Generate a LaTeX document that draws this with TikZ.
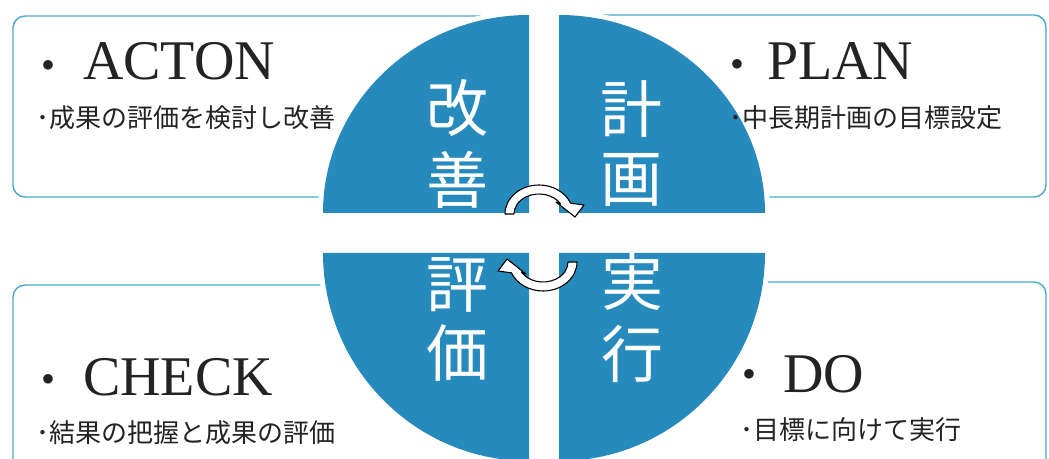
\documentclass[tikz,border=0pt]{standalone}
\usepackage{fontspec}
\newfontfamily\cjk{Noto Sans CJK JP}
\newfontfamily\headfont{Liberation Serif}
\definecolor{qblue}{RGB}{38,138,188}
\definecolor{bline}{RGB}{75,168,208}
\definecolor{ink}{RGB}{35,35,35}
\begin{document}
\begin{tikzpicture}[x=1pt,y=1pt,
  card/.style={draw=bline, line width=1.4pt, rounded corners=12pt},
  halo/.style={fill=white},
  quarter/.style={fill=qblue},
  head/.style={font=\headfont\fontsize{56}{60}\selectfont, text=ink, inner sep=0pt, anchor=base west},
  bul/.style={font=\fontsize{34}{36}\selectfont, text=ink, inner sep=0pt, anchor=base},
  sub/.style={font=\cjk\fontsize{26}{30}\selectfont, text=ink, inner sep=0pt, anchor=west},
  big/.style={font=\cjk\fontsize{62}{70}\selectfont, text=white, inner sep=0pt},
  cyc/.style={fill=white, draw=black, line width=1.1pt, line join=round}]
\useasboundingbox (0,0) rectangle (1049,458);
\clip (0,0) rectangle (1049,458);
\fill[white] (0,0) rectangle (1049,458);
% cards
\draw[card] (13,261) rectangle (520,442);
\draw[card] (570,261) rectangle (1046,443);
\draw[card] (13,-30) rectangle (520,173);
\draw[card] (570,-30) rectangle (1046,176);
% quarters with white halo
\fill[halo] (529,245) -- (318,245) arc[start angle=180,end angle=90,x radius=211pt,y radius=203pt] -- cycle;
\fill[halo] (559,245) -- (770,245) arc[start angle=0,end angle=90,x radius=211pt,y radius=203pt] -- cycle;
\fill[halo] (529,205) -- (318,205) arc[start angle=180,end angle=270,x radius=211pt,y radius=213pt] -- cycle;
\fill[halo] (559,205) -- (770,205) arc[start angle=0,end angle=-90,x radius=211pt,y radius=213pt] -- cycle;
\fill[quarter] (529,245) -- (323,245) arc[start angle=180,end angle=90,x radius=206pt,y radius=198pt] -- cycle;
\fill[quarter] (559,245) -- (765,245) arc[start angle=0,end angle=90,x radius=206pt,y radius=198pt] -- cycle;
\fill[quarter] (529,205) -- (323,205) arc[start angle=180,end angle=270,x radius=206pt,y radius=208pt] -- cycle;
\fill[quarter] (559,205) -- (765,205) arc[start angle=0,end angle=-90,x radius=206pt,y radius=208pt] -- cycle;
% big characters
\node[big] (k1) at (457,350) {改};
\node[big] (k2) at (457,278) {善};
\node[big] (k3) at (631,349) {計};
\node[big] (k4) at (631,278) {画};
\node[big] (k5) at (457,173) {評};
\node[big] (k6) at (457,105) {価};
\node[big] (k7) at (632,176) {実};
\node[big] (k8) at (632,104) {行};
% cycle arrows
\draw[cyc] (505,244) arc[start angle=180,end angle=22,x radius=34pt,y radius=29pt]
  -- (584,253) -- (575,241) -- (556,256) -- (560.65,254)
  arc[start angle=30,end angle=180,x radius=25pt,y radius=20pt] -- cycle;
\draw[cyc, rotate around={180:(541,220)}] (505,244) arc[start angle=180,end angle=22,x radius=34pt,y radius=29pt]
  -- (584,253) -- (575,241) -- (556,256) -- (560.65,254)
  arc[start angle=30,end angle=180,x radius=25pt,y radius=20pt] -- cycle;
% ACTON
\node[bul] (ab) at (48,386.5) {$\bullet$};
\node[head] (at) at (83,378) {ACTON};
\node[sub] (as) at (36,340) {･成果の評価を検討し改善};
% PLAN
\node[bul] (pb) at (737,387.5) {$\bullet$};
\node[head] (pt) at (767,378) {PLAN};
\node[sub] (ps) at (729,340) {･中長期計画の目標設定};
% CHECK
\node[bul] (cb) at (48,72.5) {$\bullet$};
\node[head] (ct) at (83,63) {CHECK};
\node[sub] (cs) at (36,25) {･結果の把握と成果の評価};
% DO
\node[bul] (db) at (749,77.5) {$\bullet$};
\node[head] (dt) at (783,66) {DO};
\node[sub] (ds) at (740,28) {･目標に向けて実行};
\end{tikzpicture}
\end{document}
